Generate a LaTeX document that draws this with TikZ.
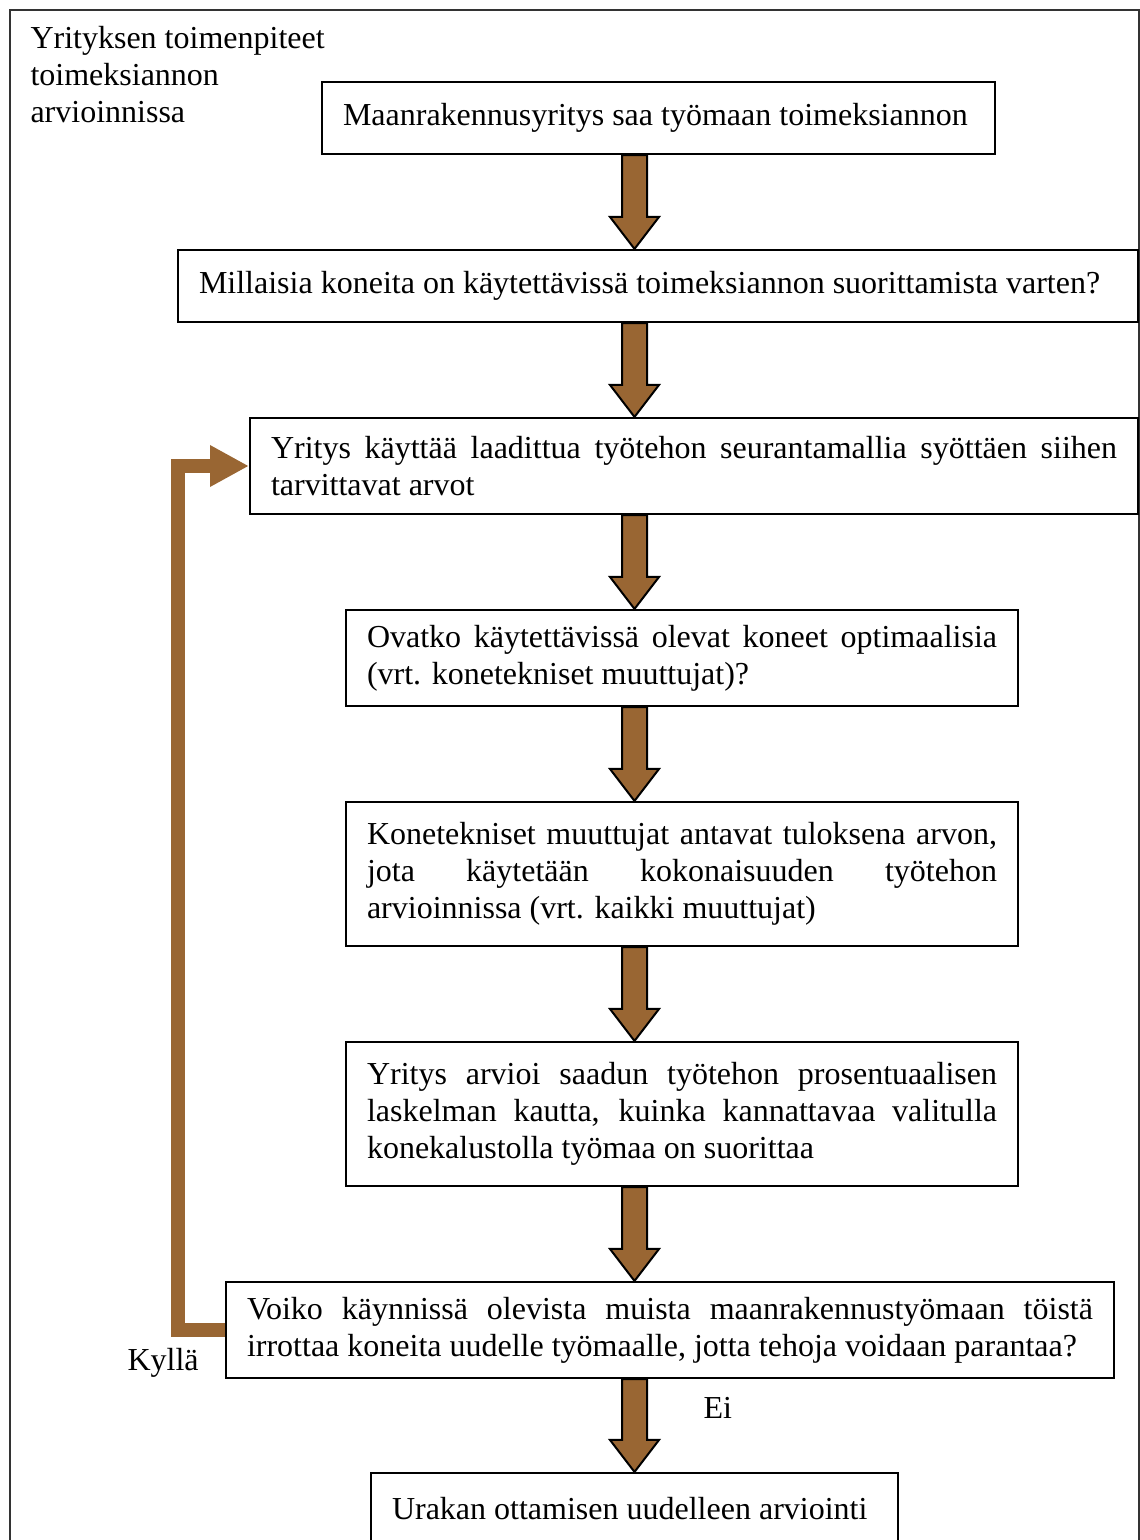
\documentclass[tikz,border=0pt]{standalone}
\usepackage{fontspec}
\setmainfont{Liberation Serif}
\usepackage{xcolor}
\usetikzlibrary{arrows.meta, calc, positioning}
\definecolor{arrowbrown}{RGB}{153,102,51}
\hyphenpenalty=10000
\exhyphenpenalty=10000

\begin{document}
\begin{tikzpicture}[
    x=0.375pt, y=-0.375pt,
    box/.style={rectangle, draw=black, line width=0.8pt,
                inner xsep=7.875pt, inner ysep=0pt, align=justify,
                font=\fontsize{12}{13.8}\selectfont},
    lbl/.style={inner sep=0pt, font=\fontsize{12}{13.8}\selectfont},
    blockArr/.style={draw=black, line width=0.75pt, fill=arrowbrown,
                     line join=miter},
    loopArr/.style={draw=arrowbrown, line width=5.25pt, line join=miter,
                    -{Triangle[length=14.6pt, width=14.6pt]}},
]
\useasboundingbox (0,0) rectangle (1140,1540);
\clip (0,0) rectangle (1140,1540);

% outer frame
\draw[line width=0.6pt, black!80] (10,10) rectangle (1139,1600);

\node[lbl, anchor=north west, align=left] (title) at (30,26)
    {Yrityksen toimenpiteet\\toimeksiannon\\arvioinnissa};

\node[box, text width=236.625pt, minimum height=27pt] (start) at (658.5,118)
    {Maanrakennusyritys saa työmaan toimeksiannon};
\node[box, text width=344.25pt, minimum height=27pt] (machines) at (658,286)
    {Millaisia koneita on käytettävissä toimeksiannon suorittamista varten?};
\node[box, text width=317.25pt, minimum height=36pt] (model) at (694,466)
    {Yritys käyttää laadittua työtehon seurantamallia syöttäen siihen tarvittavat arvot};
\node[box, text width=236.25pt, minimum height=36pt] (optimal) at (682,658)
    {Ovatko käytettävissä olevat koneet optimaalisia (vrt. konetekniset muuttujat)?};
\node[box, text width=236.25pt, minimum height=54pt] (value) at (682,874)
    {\makebox[\linewidth][s]{Konetekniset muuttujat antavat tuloksena arvon,}\\
     \makebox[\linewidth][s]{jota käytetään kokonaisuuden työtehon}\\
     arvioinnissa (vrt. kaikki muuttujat)};
\node[box, text width=236.25pt, minimum height=54pt] (profit) at (682,1114)
    {Yritys arvioi saadun työtehon prosentuaalisen laskelman kautta, kuinka kannattavaa valitulla konekalustolla työmaa on suorittaa};
\node[box, text width=317.25pt, minimum height=36pt] (release) at (670,1330)
    {Voiko käynnissä olevista muista maanrakennustyömaan töistä irrottaa koneita uudelle työmaalle, jotta tehoja voidaan parantaa?};
\node[box, text width=181.875pt, minimum height=27pt] (reeval) at (634.5,1509)
    {Urakan ottamisen uudelleen arviointi};

\coordinate (axis) at (634.5,0);

% block arrows between the steps
\foreach \a/\b in {start/machines, machines/model, model/optimal,
                   optimal/value, value/profit, profit/release, release/reeval}
  \draw[blockArr] ($(axis |- \a.south)+(-12.5,0)$) -- ($(axis |- \a.south)+(12.5,0)$)
      -- ($(axis |- \b.north)+(12.5,-32)$) -- ($(axis |- \b.north)+(24.5,-32)$)
      -- (axis |- \b.north) -- ($(axis |- \b.north)+(-24.5,-32)$)
      -- ($(axis |- \b.north)+(-12.5,-32)$) -- cycle;

% feedback loop
\draw[loopArr] (release.west) -- ++(-47,0) |- (model.west);

\node[lbl, anchor=base west] (yes) at (127,1370) {Kyllä};
\node[lbl, anchor=base west] (no) at (703,1418) {Ei};
\end{tikzpicture}
\end{document}
